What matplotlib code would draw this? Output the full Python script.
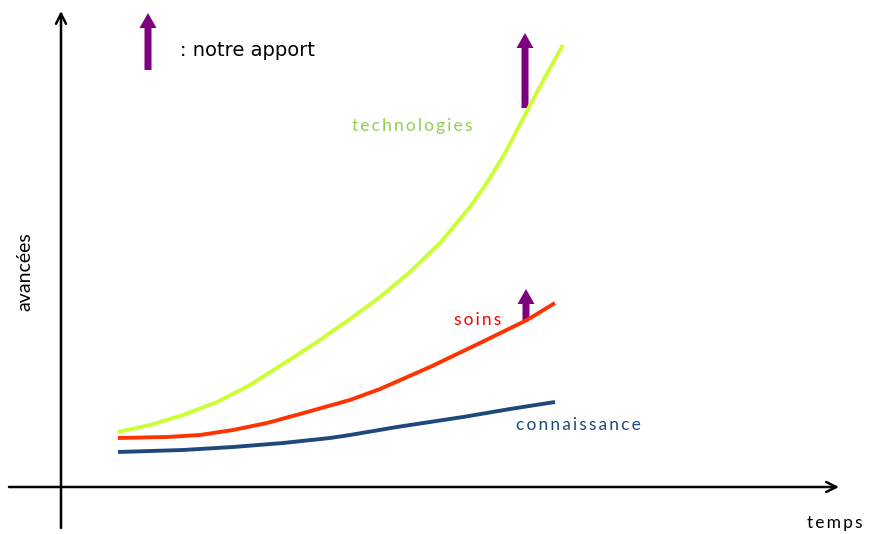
import matplotlib.pyplot as plt

# data: x = temps, y = avancées (origin at the axes crossing)
temps_tech = [57, 89, 122, 156, 189, 222, 256, 289, 319, 349, 379, 409, 429, 444, 466, 484, 502]
technologies = [55, 62, 72, 85, 102, 123, 145, 168, 190, 215, 244, 280, 309, 334, 376, 410, 442]

temps_soins = [57, 106, 139, 172, 206, 239, 271, 289, 319, 369, 419, 466, 494]
soins = [49, 50, 52, 57, 64, 73, 82, 87, 98, 120, 144, 167, 184]

temps_conn = [57, 122, 172, 222, 269, 289, 336, 402, 449, 494]
connaissance = [35, 37, 40, 44, 49, 52, 60, 70, 78, 85]

# apports: (x, y start, length)
apport_x = [87, 464, 465]
apport_y = [417, 379, 167]
apport_len = [57, 75, 31]


def espacer(mot):
    # lettres espacées comme dans l'original
    return '\u2009'.join(mot)


fig = plt.figure(figsize=(8.69, 5.34), dpi=100)
ax = fig.add_axes([0, 0, 1, 1])
ax.set_xlim(-61, 808)
ax.set_ylim(-47, 487)
ax.axis('off')

# axes avec flèches
ax.annotate('', xy=(778, 0), xytext=(-52, 0),
            arrowprops=dict(arrowstyle='->', lw=1.8, color='black',
                            mutation_scale=18, shrinkA=0, shrinkB=0))
ax.annotate('', xy=(0, 476), xytext=(0, -41),
            arrowprops=dict(arrowstyle='->', lw=1.8, color='black',
                            mutation_scale=18, shrinkA=0, shrinkB=0))

ax.plot(temps_tech, technologies, color='#CCFF33', lw=2.8,
        solid_capstyle='butt', solid_joinstyle='round')
ax.plot(temps_soins, soins, color='#FF3300', lw=2.8,
        solid_capstyle='butt', solid_joinstyle='round')
ax.plot(temps_conn, connaissance, color='#1F497D', lw=2.8,
        solid_capstyle='butt', solid_joinstyle='round')

for x, y, l in zip(apport_x, apport_y, apport_len):
    ax.arrow(x, y, 0, l, width=7, head_width=17, head_length=15,
             length_includes_head=True, color='#7F007F', lw=0)

ax.text(119, 437, ': notre apport', fontsize=14, family='DejaVu Sans',
        va='center', ha='left')

police = ['Lato', 'DejaVu Sans']
ax.text(351, 361, espacer('technologies'), fontsize=12.5, color='#92D050',
        family=police, ha='center', va='center')
ax.text(417, 167, espacer('soins'), fontsize=12.5, color='#FF0000',
        family=police, ha='center', va='center')
ax.text(517, 62, espacer('connaissance'), fontsize=12.5, color='#1F497D',
        family=police, ha='center', va='center')
ax.text(774, -36, espacer('temps'), fontsize=12.5, color='black',
        family=police, ha='center', va='center')
ax.text(-36, 215, 'avancées', fontsize=14, color='black', family=police,
        ha='center', va='center', rotation=90)

fig.savefig('out.png', dpi=100)
